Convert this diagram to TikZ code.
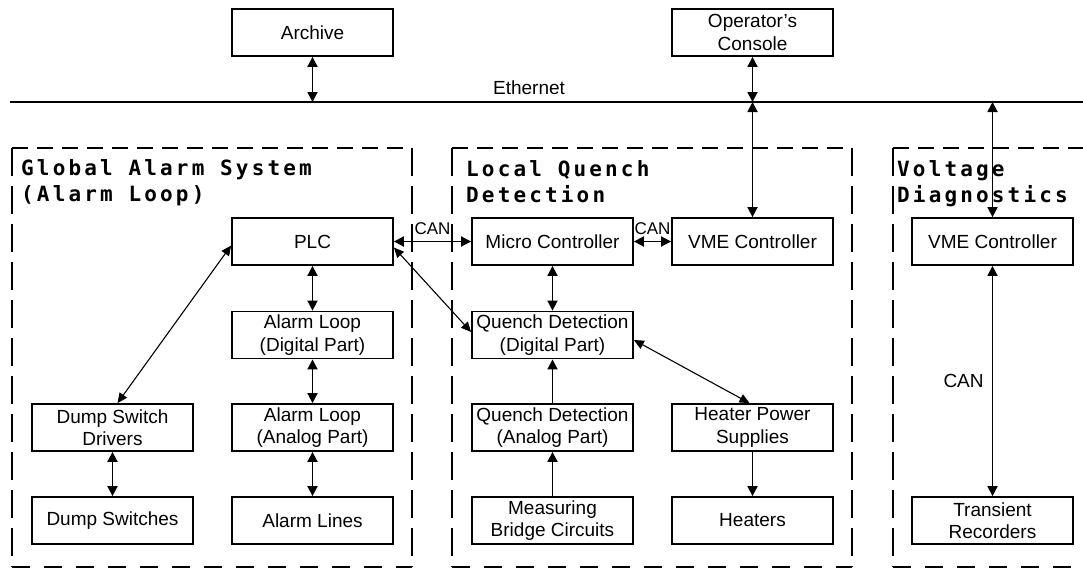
\documentclass[tikz,border=0pt]{standalone}
\usepackage{fontspec}
\setmainfont{Liberation Sans}
\newfontfamily\titlefont[LetterSpace=15]{DejaVu Sans Mono Bold}
\usetikzlibrary{arrows.meta,calc}
\tikzset{
  box/.style={draw,line width=1.8pt,minimum width=161pt,minimum height=47pt,inner sep=0pt,align=center,font=\fontsize{19}{22.5}\selectfont},
  lbl/.style={inner sep=0pt,font=\fontsize{19}{22.5}\selectfont},
  canlbl/.style={inner sep=0pt,font=\fontsize{17}{20}\selectfont},
  grptitle/.style={inner sep=0pt,anchor=north west,align=left,font=\titlefont\fontsize{21}{26}\selectfont},
  conn/.style={line width=1.8pt,>={Triangle[length=10pt,width=10pt]}},
  thin/.style={line width=1.1pt,>={Triangle[length=10pt,width=9pt]}},
  hdashtop/.style={line width=1.8pt,dash pattern=on 16pt off 9pt},
  hdashbot/.style={line width=1.8pt,dash pattern=on 18pt off 14pt},
  vdash/.style={line width=1.8pt,dash pattern=on 28pt off 10pt},
}
\begin{document}
\begin{tikzpicture}[x=1pt,y=-1pt]
\useasboundingbox[fill=white] (0,0) rectangle (1083,568);

% group frames
\coordinate (g1) at (12,148); \coordinate (g2) at (412,567);
\coordinate (l1) at (452,148); \coordinate (l2) at (852,567);
\coordinate (v1) at (893,148); \coordinate (v2) at (1090,567);
\draw[hdashtop] (g1) -- (g1 -| g2);
\draw[hdashbot] (g1 |- g2) -- (g2);
\draw[vdash] (g1) -- (g1 |- g2);
\draw[vdash] (g1 -| g2) -- (g2);
\draw[hdashtop] (l1) -- (l1 -| l2);
\draw[hdashbot] (l1 |- l2) -- (l2);
\draw[vdash] (l1) -- (l1 |- l2);
\draw[vdash] (l1 -| l2) -- (l2);
\draw[hdashtop] (v1) -- (v1 -| v2);
\draw[hdashbot] (v1 |- v2) -- (v2);
\draw[vdash] (v1) -- (v1 |- v2);

\node[grptitle] (gtitle) at (21,159) {Global Alarm System\\(Alarm Loop)};
\node[grptitle] (ltitle) at (466,160) {Local Quench\\Detection};
\node[grptitle] (vtitle) at (897,160) {Voltage\\Diagnostics};

% top
\node[box] (archive) at (312.5,32.5) {Archive};
\node[box] (console) at (752.5,32.5) {Operator's\\Console};
\coordinate (eL) at (10,102);
\coordinate (eR) at (1083,102);
\draw[line width=1.8pt] (eL) -- (eR);
\node[lbl] (eth) at (529,88) {Ethernet};

% global alarm
\node[box] (plc) at (312.5,241.5) {PLC};
\node[box] (ald) at (312.5,335) {Alarm Loop\\(Digital Part)};
\node[box] (ala) at (312.5,427.5) {Alarm Loop\\(Analog Part)};
\node[box] (alines) at (312.5,520.5) {Alarm Lines};
\node[box] (dsd) at (112.5,427.5) {Dump Switch\\Drivers};
\node[box] (ds) at (112.5,520.5) {Dump Switches};

% local quench
\node[box] (micro) at (552.5,241.5) {Micro Controller};
\node[box] (vme) at (752.5,241.5) {VME Controller};
\node[box] (qdd) at (552.5,335) {Quench Detection\\(Digital Part)};
\node[box] (qda) at (552.5,427.5) {Quench Detection\\(Analog Part)};
\node[box] (mbc) at (552.5,520.5) {Measuring\\Bridge Circuits};
\node[box] (hps) at (752.5,427.5) {Heater Power\\Supplies};
\node[box] (heaters) at (752.5,520.5) {Heaters};

% voltage diagnostics
\node[box] (vme2) at (992.5,241.5) {VME Controller};
\node[box] (tr) at (992.5,520.5) {Transient\\Recorders};

% connectors to ethernet
\draw[conn,<->] (archive) -- (archive |- eL);
\draw[conn,<->] (console) -- (console |- eL);
\draw[conn,<->] (console |- eL) -- (vme);
\draw[conn,<->] (vme2 |- eL) -- (vme2);

% global alarm connectors
\draw[conn,<->] (plc) -- (ald);
\draw[conn,<->] (ald) -- (ala);
\draw[conn,<->] (ala) -- (alines);
\draw[conn,<->] (dsd) -- (ds);
\draw[thin,<->] ($(plc.west)+(0,4)$) -- ($(dsd.north)+(5,0)$);

% CAN links
\draw[conn,<->] (plc) -- node[canlbl,above=6pt] (can1) {CAN} (micro);
\draw[conn,<->] (micro) -- node[canlbl,above=6pt] (can2) {CAN} (vme);
\draw[thin,<->] ($(plc.east)+(0,6)$) -- ($(qdd.west)+(0,-3)$);

% local quench connectors
\draw[conn,<->] (micro) -- (qdd);
\draw[conn,->] (qda) -- (qdd);
\draw[conn,->] (mbc) -- (qda);
\draw[conn,->] (hps) -- (heaters);
\draw[thin,<->] ($(qdd.east)+(0,5)$) -- ($(hps.north)+(-3,0)$);

% voltage diagnostics
\draw[conn,<->] (vme2) -- node[lbl,left=8pt] (can3) {CAN} (tr);
\end{tikzpicture}
\end{document}
